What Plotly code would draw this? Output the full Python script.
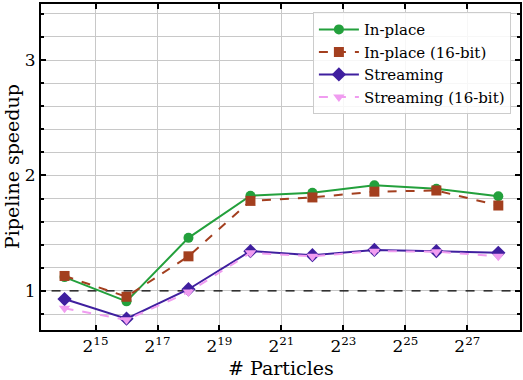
import math
import plotly.graph_objects as go

# number of particles (log2 exponents) and pipeline speedups
exponents = [14, 16, 18, 20, 22, 24, 26, 28]
particles = [2 ** e for e in exponents]

in_place = [1.12, 0.91, 1.46, 1.825, 1.85, 1.915, 1.885, 1.82]
in_place_16 = [1.13, 0.95, 1.30, 1.78, 1.81, 1.86, 1.87, 1.74]
streaming = [0.93, 0.76, 1.015, 1.345, 1.31, 1.355, 1.345, 1.33]
streaming_16 = [0.85, 0.75, 0.99, 1.33, 1.30, 1.345, 1.34, 1.30]

tick_exps = [15, 17, 19, 21, 23, 25, 27]
tick_vals = [2 ** e for e in tick_exps]
tick_text = ["2<sup>%d</sup>" % e for e in tick_exps]

series = [
    ("In-place", in_place, "#23a03c", "solid", "circle", 10),
    ("In-place (16-bit)", in_place_16, "#a33f1f", "dash", "square", 10),
    ("Streaming", streaming, "#3f1f9f", "solid", "diamond", 11),
    ("Streaming (16-bit)", streaming_16, "#f09cf0", "dash", "triangle-down", 10),
]

FONT = "DejaVu Serif"
W, H = 523, 380
L, R, T, B = 41, 3, 4, 50

fig = go.Figure()

# reference line at speedup = 1 (drawn first so it stays under the markers)
fig.add_trace(go.Scatter(
    x=[2 ** 13, 2 ** 29], y=[1, 1], mode="lines", showlegend=False, hoverinfo="skip",
    line=dict(color="black", width=1.3, dash="dash"),
))

for name, vals, color, dash, symbol, size in series:
    fig.add_trace(go.Scatter(
        x=particles, y=vals, name=name, mode="lines+markers",
        line=dict(color=color, width=2, dash=dash),
        marker=dict(symbol=symbol, size=size, color=color),
    ))

l2 = math.log10(2)
fig.update_xaxes(
    type="log", range=[13.24 * l2, 28.7 * l2],
    tickvals=tick_vals, ticktext=tick_text,
    showgrid=True, gridcolor="#c8c8c8", gridwidth=1,
    showline=True, linecolor="black", linewidth=2, mirror="ticks",
    ticks="inside", ticklen=5, tickwidth=1.5, tickcolor="black",
    tickfont=dict(family=FONT, size=17, color="black"),
    zeroline=False, automargin=False,
)
fig.update_yaxes(
    range=[0.662, 3.485],
    tickvals=[1, 2, 3],
    showgrid=True, gridcolor="#c8c8c8", gridwidth=1,
    minor=dict(dtick=0.2, tick0=0, showgrid=True, gridcolor="#c8c8c8", gridwidth=1,
               ticks="inside", ticklen=3, tickcolor="black"),
    showline=True, linecolor="black", linewidth=2, mirror="ticks",
    ticks="inside", ticklen=5, tickwidth=1.5, tickcolor="black",
    tickfont=dict(family=FONT, size=17, color="black"),
    zeroline=False, automargin=False,
)

pw, ph = W - L - R, H - T - B
fig.add_annotation(
    text="# Particles", xref="paper", yref="paper",
    x=0.5, y=-(368 - (H - B)) / ph, xanchor="center", yanchor="middle",
    showarrow=False, font=dict(family=FONT, size=19, color="black"),
)
fig.add_annotation(
    text="Pipeline speedup", xref="paper", yref="paper",
    x=-(L - 12) / pw, y=0.5, xanchor="center", yanchor="middle", textangle=-90,
    showarrow=False, font=dict(family=FONT, size=19, color="black"),
)

fig.update_layout(
    width=W, height=H,
    margin=dict(l=L, r=R, t=T, b=B, autoexpand=False),
    plot_bgcolor="white", paper_bgcolor="white",
    font=dict(family=FONT, color="black"),
    legend=dict(
        x=0.981, y=0.975, xanchor="right", yanchor="top",
        bgcolor="rgba(255,255,255,0.85)", bordercolor="#cccccc", borderwidth=1,
        font=dict(family=FONT, size=15, color="black"),
        tracegroupgap=0, itemwidth=40,
    ),
)

fig.write_html("out.html", config={"displayModeBar": False},
               post_script="document.body.style.margin='0';")
